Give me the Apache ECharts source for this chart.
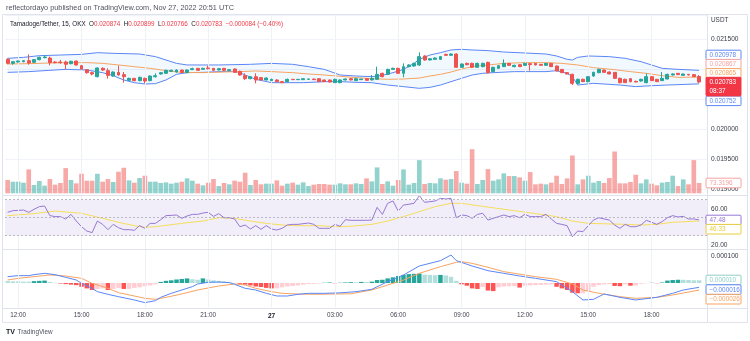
<!DOCTYPE html>
<html><head><meta charset="utf-8">
<script src="https://cdn.jsdelivr.net/npm/echarts@6/dist/echarts.min.js"></script>
<style>html,body{margin:0;padding:0;background:#fff}#c{width:750px;height:341px}</style>
</head><body><div id="c"></div>
<script>
// ---------------- DATA ----------------
const openP = [0.021161,0.021094,0.021117,0.021122,0.021139,0.021111,0.021156,0.021189,0.021183,0.021117,
0.021117,0.021117,0.021089,0.021133,0.021056,0.020989,0.020939,0.020872,0.021011,0.020972,
0.020883,0.020944,0.020906,0.020811,0.020844,0.020806,0.020844,0.020806,0.020872,0.020917,
0.020928,0.020961,0.020950,0.020983,0.020939,0.020989,0.021011,0.020994,0.021017,0.021011,
0.020983,0.021011,0.020972,0.021000,0.020961,0.020889,0.020839,0.020872,0.020856,0.020817,
0.020806,0.020817,0.020789,0.020789,0.020828,0.020822,0.020822,0.020828,0.020833,0.020839,
0.020817,0.020817,0.020772,0.020772,0.020817,0.020839,0.020806,0.020822,0.020839,0.020817,
0.020828,0.020928,0.020911,0.020994,0.021011,0.020928,0.021039,0.021050,0.021067,0.021217,
0.021150,0.021161,0.021161,0.021244,0.021228,0.021250,0.021028,0.021094,0.021094,0.021028,
0.021039,0.021111,0.020956,0.021011,0.021039,0.021094,0.021039,0.021072,0.021061,0.021089,
0.021094,0.021078,0.021061,0.021094,0.021050,0.020994,0.020939,0.020911,0.020761,0.020828,
0.020789,0.020883,0.020939,0.020983,0.020950,0.020944,0.020844,0.020828,0.020839,0.020794,
0.020800,0.020772,0.020872,0.020828,0.020806,0.020833,0.020900,0.020928,0.020894,0.020911,
0.020906,0.020874];
const closeP = [0.021094,0.021122,0.021133,0.021139,0.021100,0.021156,0.021194,0.021200,0.021106,0.021106,
0.021106,0.021078,0.021128,0.021067,0.021000,0.020939,0.020917,0.021017,0.020983,0.020894,
0.020950,0.020900,0.020872,0.020844,0.020806,0.020861,0.020800,0.020883,0.020889,0.020939,
0.020978,0.020978,0.020983,0.020944,0.020983,0.021006,0.020978,0.021011,0.021006,0.020978,
0.021006,0.020978,0.020989,0.020944,0.020900,0.020839,0.020872,0.020817,0.020817,0.020850,
0.020828,0.020789,0.020772,0.020828,0.020822,0.020828,0.020839,0.020833,0.020822,0.020789,
0.020789,0.020783,0.020828,0.020817,0.020833,0.020817,0.020839,0.020833,0.020811,0.020844,
0.020911,0.020872,0.020994,0.021011,0.020928,0.021039,0.021067,0.021094,0.021206,0.021150,
0.021172,0.021183,0.021206,0.021228,0.021250,0.021028,0.021083,0.021072,0.021028,0.021094,
0.021094,0.020939,0.021028,0.021056,0.021094,0.021061,0.021061,0.021039,0.021094,0.021072,
0.021067,0.021061,0.021094,0.021039,0.020967,0.020939,0.020917,0.020761,0.020828,0.020789,
0.020872,0.020944,0.020994,0.020944,0.020917,0.020844,0.020772,0.020772,0.020789,0.020783,
0.020828,0.020872,0.020806,0.020789,0.020844,0.020911,0.020917,0.020906,0.020917,0.020900,
0.020872,0.020783];
const lowP = [0.021078,0.021072,0.021106,0.021111,0.021072,0.021100,0.021144,0.021178,0.021061,0.021094,
0.021089,0.020994,0.021078,0.021056,0.020989,0.020922,0.020894,0.020861,0.020967,0.020839,
0.020872,0.020889,0.020772,0.020800,0.020794,0.020794,0.020761,0.020794,0.020856,0.020906,
0.020917,0.020956,0.020939,0.020939,0.020933,0.020983,0.020972,0.020989,0.020994,0.020972,
0.020978,0.020967,0.020967,0.020939,0.020889,0.020817,0.020828,0.020761,0.020806,0.020811,
0.020800,0.020778,0.020767,0.020783,0.020817,0.020817,0.020817,0.020822,0.020817,0.020783,
0.020783,0.020778,0.020767,0.020761,0.020811,0.020811,0.020800,0.020817,0.020806,0.020811,
0.020817,0.020861,0.020900,0.020983,0.020917,0.020861,0.021028,0.021039,0.021050,0.021139,
0.021144,0.021156,0.021150,0.021217,0.021217,0.021017,0.021017,0.021061,0.021017,0.021022,
0.021028,0.020928,0.020944,0.021000,0.021033,0.021050,0.021028,0.021033,0.021056,0.020972,
0.021061,0.021056,0.021056,0.021033,0.020961,0.020933,0.020911,0.020733,0.020744,0.020783,
0.020778,0.020872,0.020928,0.020939,0.020911,0.020833,0.020761,0.020767,0.020778,0.020778,
0.020789,0.020761,0.020800,0.020783,0.020800,0.020828,0.020894,0.020900,0.020889,0.020894,
0.020867,0.020766];
const highP = [0.021178,0.021133,0.021144,0.021150,0.021244,0.021167,0.021206,0.021233,0.021206,0.021128,
0.021150,0.021139,0.021139,0.021139,0.021067,0.021000,0.020956,0.021028,0.021028,0.021011,
0.020961,0.021056,0.020950,0.020856,0.020850,0.020872,0.020856,0.020894,0.020928,0.020950,
0.020989,0.020989,0.020994,0.020989,0.020994,0.021022,0.021017,0.021022,0.021056,0.021017,
0.021017,0.021017,0.021000,0.021011,0.020972,0.020928,0.020883,0.020928,0.020867,0.020861,
0.020839,0.020828,0.020800,0.020839,0.020833,0.020833,0.020844,0.020839,0.020839,0.020844,
0.020822,0.020822,0.020839,0.020828,0.020844,0.020850,0.020850,0.020839,0.020844,0.020900,
0.021039,0.020939,0.021006,0.021022,0.021022,0.021094,0.021078,0.021106,0.021278,0.021228,
0.021183,0.021194,0.021217,0.021256,0.021261,0.021261,0.021094,0.021106,0.021106,0.021106,
0.021106,0.021122,0.021039,0.021067,0.021161,0.021100,0.021072,0.021078,0.021106,0.021100,
0.021100,0.021083,0.021100,0.021100,0.021056,0.021000,0.020950,0.020922,0.020839,0.020839,
0.020883,0.020956,0.021006,0.020989,0.020961,0.020950,0.020856,0.020839,0.020844,0.020806,
0.020839,0.020928,0.020878,0.020833,0.020950,0.020922,0.020928,0.020933,0.020922,0.020917,
0.020911,0.020899];
const volume = [94.6,82.8,82.8,75.7,170.3,59.1,87.5,54.4,101.7,61.5,
73.3,179.7,94.6,70.9,139.5,89.9,89.9,139.5,82.8,101.7,
80.4,153.7,182.1,92.2,75.7,108.8,125.3,82.8,82.8,73.3,
78.0,68.6,75.7,82.8,106.4,89.9,68.6,56.8,75.7,101.7,
52.0,73.3,63.9,89.9,82.8,146.6,59.1,94.6,63.9,68.6,
68.6,92.2,54.4,68.6,75.7,61.5,78.0,52.0,61.5,66.2,
66.2,61.5,61.5,71.0,63.9,63.9,71.0,66.2,106.4,85.1,
184.5,66.2,85.1,54.4,94.6,170.3,61.5,73.3,236.5,66.2,
73.3,71.0,106.4,97.0,101.7,158.5,75.7,68.6,314.5,66.2,
94.6,172.6,89.9,99.3,141.9,123.0,123.0,113.5,89.9,151.4,
63.9,68.6,63.9,75.7,125.3,66.2,106.4,269.6,63.9,99.3,
125.3,75.7,87.5,73.3,108.8,298.0,71.0,71.0,80.4,132.4,
71.0,99.3,68.6,56.8,75.7,80.4,125.3,52.0,99.3,63.9,
236.5,73.3196];
// Bollinger Bands [bar index, value]
const bbUpper = [[0,0.021178],[3,0.021194],[6,0.021222],[10,0.021233],[14,0.021244],[17,0.021272],[20,0.021261],[25,0.021250],[28,0.021206],[30,0.021150],[32,0.021094],[34,0.021067],[40,0.021067],[46,0.021078],[50,0.021094],[54,0.021078],[57,0.021039],[60,0.020994],[63,0.020900],[66,0.020883],[69,0.020872],[71,0.020894],[73,0.020939],[75,0.020994],[77,0.021094],[78,0.021161],[80,0.021233],[82,0.021272],[84,0.021317],[86,0.021328],[88,0.021317],[91,0.021306],[94,0.021283],[98,0.021267],[102,0.021250],[104,0.021217],[106,0.021161],[107,0.021150],[108,0.021194],[110,0.021217],[114,0.021206],[117,0.021178],[120,0.021122],[122,0.021067],[124,0.021011],[127,0.020994],[131,0.020978]];
const bbBasis = [[0,0.021083],[4,0.021089],[8,0.021100],[12,0.021106],[15,0.021106],[18,0.021094],[21,0.021067],[24,0.021039],[27,0.021011],[30,0.020972],[33,0.020944],[37,0.020939],[41,0.020950],[44,0.020956],[47,0.020967],[50,0.020956],[54,0.020939],[57,0.020917],[60,0.020900],[63,0.020878],[66,0.020856],[69,0.020839],[72,0.020828],[75,0.020833],[78,0.020850],[80,0.020883],[82,0.020911],[84,0.020950],[86,0.021000],[88,0.021039],[91,0.021067],[94,0.021094],[98,0.021106],[102,0.021106],[105,0.021094],[108,0.021067],[111,0.021022],[115,0.020989],[118,0.020956],[121,0.020928],[124,0.020889],[127,0.020861],[131,0.020865]];
const bbLower = [[0,0.020944],[4,0.020956],[8,0.020978],[11,0.020994],[15,0.020983],[18,0.020939],[20,0.020889],[22,0.020817],[24,0.020772],[26,0.020750],[28,0.020756],[30,0.020817],[32,0.020911],[34,0.020939],[37,0.020944],[40,0.020956],[43,0.020961],[44,0.020939],[45,0.020900],[47,0.020828],[50,0.020772],[56,0.020772],[60,0.020789],[63,0.020789],[66,0.020778],[69,0.020772],[72,0.020733],[75,0.020706],[78,0.020678],[80,0.020694],[82,0.020733],[85,0.020817],[88,0.020900],[90,0.020928],[92,0.020939],[96,0.020956],[102,0.020956],[104,0.020972],[106,0.020928],[107,0.020872],[108,0.020733],[111,0.020761],[116,0.020733],[119,0.020706],[121,0.020717],[125,0.020733],[131,0.020752]];
// RSI and its moving average [bar index, value]
const rsi = [[0,56.0],[1,57.8],[3,58.5],[4,56.0],[5,59.3],[6,62.3],[7,63.0],[8,52.3],[9,51.2],[10,51.2],[11,48.6],[12,53.7],[13,46.3],[14,40.0],[15,35.2],[16,33.4],[17,46.3],[18,42.6],[19,36.7],[20,42.6],[21,38.9],[22,36.7],[23,36.7],[24,36.0],[25,41.2],[26,38.2],[27,43.7],[28,43.7],[29,47.8],[30,52.3],[31,52.6],[32,53.0],[33,49.3],[34,51.9],[35,53.7],[36,53.7],[37,55.2],[38,56.0],[39,51.5],[40,54.5],[41,50.0],[42,50.0],[43,48.6],[44,40.0],[45,41.9],[46,37.4],[47,41.2],[48,37.1],[49,41.2],[50,37.4],[51,36.3],[52,38.2],[53,41.9],[54,42.6],[55,42.6],[57,44.1],[58,42.6],[59,38.2],[60,38.2],[61,38.2],[62,42.6],[63,40.5],[64,47.8],[65,47.1],[66,47.1],[68,47.1],[69,47.4],[70,61.5],[71,53.7],[72,66.0],[73,68.6],[74,57.4],[75,64.1],[76,64.9],[77,66.0],[78,74.5],[79,67.1],[80,67.8],[81,68.6],[82,71.5],[83,70.8],[84,71.5],[85,50.0],[86,53.0],[87,52.3],[88,49.3],[89,53.7],[90,54.9],[91,47.4],[92,49.3],[93,51.2],[94,53.0],[95,51.2],[96,52.3],[97,50.0],[98,53.7],[99,51.2],[100,51.2],[101,51.2],[102,53.7],[103,48.6],[104,43.7],[105,42.6],[106,41.1],[107,28.9],[108,35.2],[109,34.5],[110,41.1],[111,47.4],[112,50.0],[113,48.6],[114,47.4],[115,41.9],[116,38.2],[117,42.6],[118,40.0],[119,40.0],[120,41.9],[121,47.1],[122,44.9],[123,42.6],[124,45.6],[125,50.0],[126,52.3],[127,50.8],[128,51.5],[129,48.6],[130,48.6],[131,47.48]];
const rsiMA = [[0,52.3],[5,54.5],[9,57.4],[14,54.9],[18,49.3],[21,44.9],[24,41.1],[26,39.3],[28,40.0],[33,43.7],[37,46.3],[40,50.0],[43,49.3],[46,46.3],[49,43.7],[52,41.9],[55,41.1],[59,41.1],[62,40.0],[65,40.5],[69,42.6],[72,46.3],[75,51.2],[78,56.7],[81,62.3],[84,66.0],[86,66.0],[89,63.4],[95,58.6],[101,53.7],[104,51.2],[107,46.3],[110,43.7],[117,42.6],[120,41.9],[123,42.6],[126,44.9],[131,46.33]];
// MACD [bar index, value]
const macdLine = [[0,23.5e-6],[2,27.2e-6],[4,27.2e-6],[5,30.9e-6],[7,35.8e-6],[9,30.9e-6],[11,21.0e-6],[13,11.1e-6],[14,-1.2e-6],[16,-19.7e-6],[17,-32.1e-6],[19,-41.9e-6],[21,-50.6e-6],[24,-62.9e-6],[26,-72.8e-6],[28,-65.4e-6],[29,-53.1e-6],[31,-38.2e-6],[33,-25.9e-6],[35,-13.5e-6],[36,-3.7e-6],[38,2.5e-6],[40,3.7e-6],[42,1.3e-6],[43,-4.9e-6],[45,-19.7e-6],[47,-25.9e-6],[49,-38.2e-6],[51,-48.1e-6],[53,-48.1e-6],[55,-41.9e-6],[57,-38.2e-6],[60,-38.2e-6],[63,-36.5e-6],[66,-32.1e-6],[69,-23.4e-6],[72,5.0e-6],[75,29.7e-6],[78,63.0e-6],[82,82.8e-6],[84,103.7e-6],[85,82.8e-6],[88,63.0e-6],[91,45.7e-6],[94,35.8e-6],[97,26.0e-6],[100,17.3e-6],[104,5.0e-6],[107,-32.1e-6],[109,-62.9e-6],[111,-60.5e-6],[113,-40.7e-6],[116,-53.1e-6],[119,-62.9e-6],[123,-53.1e-6],[126,-38.2e-6],[128,-25.9e-6],[131,-16e-6]];
const macdSignal = [[0,11.1e-6],[2,17.3e-6],[5,23.5e-6],[8,29.7e-6],[11,26.0e-6],[14,17.3e-6],[16,-1.2e-6],[19,-19.7e-6],[21,-35.8e-6],[24,-48.1e-6],[26,-56.8e-6],[28,-60.5e-6],[30,-53.1e-6],[33,-40.7e-6],[36,-25.9e-6],[40,-11.1e-6],[43,-3.7e-6],[45,-7.4e-6],[47,-19.7e-6],[50,-32.1e-6],[52,-38.2e-6],[55,-40.7e-6],[58,-41.9e-6],[62,-40.7e-6],[65,-40.0e-6],[69,-25.9e-6],[72,-7.4e-6],[75,11.1e-6],[78,35.8e-6],[82,60.5e-6],[85,76.6e-6],[86,79.1e-6],[88,72.9e-6],[91,58.1e-6],[94,42.0e-6],[100,23.5e-6],[104,13.6e-6],[107,-3.7e-6],[109,-25.9e-6],[112,-38.2e-6],[116,-50.6e-6],[119,-56.8e-6],[123,-53.1e-6],[126,-44.4e-6],[131,-26e-6]];
const macdHist = [7e-6,6e-6,6e-6,5e-6,5e-6,7e-6,8e-6,9e-6,4e-6,1e-6,
-2e-6,-4e-6,-6e-6,-8e-6,-14e-6,-20e-6,-26e-6,-22e-6,-20e-6,-26e-6,
-22e-6,-18e-6,-22e-6,-22e-6,-18e-6,-16e-6,-12e-6,-9e-6,-5e-6,4e-6,
8e-6,10e-6,13e-6,15e-6,17e-6,14e-6,12e-6,17e-6,13e-6,10e-6,
8e-6,6e-6,3e-6,1e-6,-3e-6,-6e-6,-9e-6,-13e-6,-15e-6,-18e-6,
-20e-6,-20e-6,-16e-6,-13e-6,-11e-6,-9e-6,-6e-6,-4e-6,-3e-6,-2e-6,
1e-6,2e-6,-1e-6,1e-6,2e-6,3e-6,3e-6,4e-6,4e-6,5e-6,
11e-6,12e-6,17e-6,21e-6,26e-6,30e-6,33e-6,34e-6,35e-6,31e-6,
30e-6,29e-6,30e-6,28e-6,23e-6,8e-6,-5e-6,-10e-6,-20e-6,-22e-6,
-15e-6,-28e-6,-30e-6,-16e-6,-13e-6,-12e-6,-11e-6,-17e-6,-10e-6,-9e-6,
-8e-6,-7e-6,-6e-6,-5e-6,-14e-6,-20e-6,-26e-6,-36e-6,-38e-6,-38e-6,
-30e-6,-14e-6,-8e-6,-5e-6,-4e-6,-11e-6,-12e-6,-5e-6,-10e-6,-9e-6,
-3e-6,-1e-6,1e-6,-1e-6,2e-6,9e-6,11e-6,12e-6,12e-6,11e-6,
10e-6,10e-6];
// Axis ticks
const tickIndex = [2,14,26,38,50,62,74,86,98,110,122];
const tickText = ['12:00','15:00','18:00','21:00','27','03:00','06:00','09:00','12:00','15:00','18:00'];
const priceTicks = [0.0215,0.0200,0.0195,0.0190];
const rsiTicks = [60,20];
const macdTicks = [0.0001];
// Right-axis value badges
const badgeText = ['0.020978','0.020867','0.020865','0.020752','73.3196','47.48','46.33','0.000010','\u22120.000016','\u22120.000026'];
const lastPrice = '0.020783', countdown = '08:37';
const titleText = 'reflectordayo published on TradingView.com, Nov 27, 2022 20:51 UTC';

// ---------------- CHART ----------------
const categories = [];
for (let k = 0; k < 133; k++) {
  const m = 690 + 15 * k;
  const day = 26 + Math.floor(m / 1440), mm = m % 1440;
  categories.push(day + ' ' + String(Math.floor(mm / 60)).padStart(2, '0') + ':' + String(mm % 60).padStart(2, '0'));
}
const FONT = 'Liberation Sans, Arial, sans-serif';
const UP = '#26a69a', DOWN = '#ef5350';
const L = 5, R = 43;
const grids = [
  {left: L, right: R, top: 15, height: 174},
  {left: L, right: R, top: 140, height: 53.3},
  {left: L, right: R, top: 195.2, height: 54},
  {left: L, right: R, top: 247.9, height: 59.4}
];
const xAxes = grids.map((g, gi) => ({
  type: 'category', gridIndex: gi, data: categories, boundaryGap: true,
  axisLine: {show: false}, axisTick: {show: false}, splitLine: {show: false},
  axisLabel: gi === 3 ? {
    show: true, interval: (idx) => tickIndex.indexOf(idx) >= 0,
    formatter: (v, idx) => { const t = tickText[tickIndex.indexOf(idx)]; return t === '27' ? '{b|' + t + '}' : t; },
    rich: {b: {fontWeight: 'bold', fontSize: 6.5, color: '#131722', fontFamily: FONT}},
    fontSize: 6.3, color: '#434651', margin: 5, fontFamily: FONT
  } : {show: false}
}));
const axisLabelBase = {fontSize: 6.6, color: '#363a45', margin: 4, fontFamily: FONT};
const yAxes = [
  {type: 'value', gridIndex: 0, position: 'right', min: 0.019, max: 0.0219, interval: 0.0005,
   axisLine: {show: false}, axisTick: {show: false},
   axisLabel: Object.assign({}, axisLabelBase, {formatter: v => priceTicks.some(t => Math.abs(t - v) < 1e-7) ? v.toFixed(6) : ''}),
   splitLine: {lineStyle: {color: '#f0f3fa', width: 1}}},
  {type: 'value', gridIndex: 1, min: 0, max: 380, show: false, splitLine: {show: false}},
  {type: 'value', gridIndex: 2, position: 'right', min: 15, max: 75,
   axisLine: {show: false}, axisTick: {show: false}, splitLine: {show: false},
   axisLabel: Object.assign({}, axisLabelBase, {customValues: rsiTicks, formatter: v => Number(v).toFixed(2)})},
  {type: 'value', gridIndex: 3, position: 'right', min: -0.00009, max: 0.00013,
   axisLine: {show: false}, axisTick: {show: false}, splitLine: {show: false},
   axisLabel: Object.assign({}, axisLabelBase, {customValues: macdTicks, formatter: v => Number(v).toFixed(6)})}
];
const vGrid = {silent: true, symbol: ['none', 'none'], label: {show: false}, animation: false,
  lineStyle: {color: '#eef1f7', width: 1, type: 'solid'}, data: tickIndex.map(i => ({xAxis: categories[i]}))};

const candleData = openP.map((o, k) => [o, closeP[k], lowP[k], highP[k]]);
const series = [
  {type: 'custom', coordinateSystem: 'cartesian2d', xAxisIndex: 0, yAxisIndex: 0, data: [[0, 0.02]], silent: true, z: 1,
   renderItem: (params, api) => {
     const pts = bbUpper.map(p => api.coord(p)).concat(bbLower.slice().reverse().map(p => api.coord(p)));
     return {type: 'polygon', shape: {points: pts}, style: {fill: 'rgba(33,150,243,0.06)', stroke: 'none'}};
   }},
  {type: 'line', xAxisIndex: 0, yAxisIndex: 0, data: bbUpper, showSymbol: false, silent: true, z: 2,
   lineStyle: {color: '#5b86f6', width: 1}, markLine: vGrid},
  {type: 'line', xAxisIndex: 0, yAxisIndex: 0, data: bbLower, showSymbol: false, silent: true, z: 2,
   lineStyle: {color: '#5b86f6', width: 1}},
  {type: 'line', xAxisIndex: 0, yAxisIndex: 0, data: bbBasis, showSymbol: false, silent: true, z: 2,
   lineStyle: {color: '#f7a462', width: 1}},
  {type: 'candlestick', xAxisIndex: 0, yAxisIndex: 0, data: candleData, barWidth: 3.4, z: 5,
   itemStyle: {color: UP, color0: DOWN, borderColor: UP, borderColor0: DOWN, borderWidth: 1}},
  {type: 'bar', xAxisIndex: 1, yAxisIndex: 1, data: volume, barWidth: '88%', silent: true, z: 0,
   itemStyle: {color: p => closeP[p.dataIndex] >= openP[p.dataIndex] ? 'rgba(38,166,154,0.5)' : 'rgba(239,83,80,0.5)'},
   markLine: vGrid},
  {type: 'line', xAxisIndex: 2, yAxisIndex: 2, data: rsiMA, showSymbol: false, silent: true, z: 3,
   lineStyle: {color: '#f5de5c', width: 1}, markLine: vGrid},
  {type: 'line', xAxisIndex: 2, yAxisIndex: 2, data: rsi, showSymbol: false, silent: true, z: 4,
   lineStyle: {color: '#9677d4', width: 1},
   markArea: {silent: true, itemStyle: {color: 'rgba(126,87,194,0.1)'}, data: [[{yAxis: 70}, {yAxis: 30}]]},
   markLine: {silent: true, symbol: ['none', 'none'], label: {show: false}, animation: false,
     lineStyle: {color: '#b8b9c2', width: 1, type: [2, 2]}, data: [{yAxis: 70}, {yAxis: 50}, {yAxis: 30}]}},
  {type: 'bar', xAxisIndex: 3, yAxisIndex: 3, data: macdHist, barWidth: '85%', silent: true, z: 2,
   itemStyle: {color: p => {
     const v = macdHist[p.dataIndex], pr = p.dataIndex > 0 ? macdHist[p.dataIndex - 1] : v;
     return v >= 0 ? (v > pr ? '#26a69a' : '#b2dfdb') : (v < pr ? '#ff5252' : '#ffcdd2');
   }}, markLine: vGrid},
  {type: 'line', xAxisIndex: 3, yAxisIndex: 3, data: macdLine, showSymbol: false, silent: true, z: 4,
   lineStyle: {color: '#5b86f6', width: 1}},
  {type: 'line', xAxisIndex: 3, yAxisIndex: 3, data: macdSignal, showSymbol: false, silent: true, z: 3,
   lineStyle: {color: '#f7a462', width: 1}}
];

// ---------------- CHROME / LABELS ----------------
const badgeY = [55, 64.2, 73.4, 100.8, 183, 220, 229.2, 280, 289.6, 299.2];
const badgeColor = ['#5b86f6', '#f5a3a1', '#f7a462', '#5b86f6', '#f5a3a1', '#9677d4', '#e8cf3c', '#8fd0c8', '#5b86f6', '#f7a462'];
const gfx = [];
const line = (x1, y1, x2, y2, c) => gfx.push({type: 'line', silent: true, z: 100, shape: {x1, y1, x2, y2}, style: {stroke: c || '#e0e3eb', lineWidth: 1}});
gfx.push({type: 'rect', silent: true, z: 100, shape: {x: 2.5, y: 14.5, width: 745, height: 308}, style: {fill: 'none', stroke: '#e0e3eb', lineWidth: 1}});
line(707.5, 14.5, 707.5, 322.5);
line(2.5, 195.5, 747.5, 195.5);
line(2.5, 249.5, 747.5, 249.5);
line(2.5, 308.5, 747.5, 308.5);
const txt = (x, y, text, size, fill, extra) => gfx.push(Object.assign({type: 'text', silent: true, z: 110, x, y,
  style: {text, fontSize: size, fontFamily: FONT, fill, textAlign: 'left', textVerticalAlign: 'middle'}}, extra || {}));
txt(6, 7.5, titleText, 7.3, '#50535e');
txt(711, 20.5, 'USDT', 6.4, '#363a45');
gfx.push({type: 'text', silent: true, z: 110, x: 10, y: 24.5, style: {
  text: '{n|Tamadoge/Tether, 15, OKX}  {l|O}{v|' + openP[131].toFixed(6) + '}  {l|H}{v|' + highP[131].toFixed(6) + '}  {l|L}{v|' + lowP[131].toFixed(6) + '}  {l|C}{v|' + closeP[131].toFixed(6) + '}  {v|\u22120.000084 (\u22120.40%)}',
  textVerticalAlign: 'middle', fontFamily: FONT, fontSize: 6.3,
  rich: {n: {fill: '#131722', fontSize: 6.3, fontFamily: FONT}, l: {fill: '#131722', fontSize: 6.3, fontFamily: FONT}, v: {fill: '#f23645', fontSize: 6.3, fontFamily: FONT}}}});
badgeText.forEach((t, k) => {
  gfx.push({type: 'rect', silent: true, z: 105, shape: {x: 706, y: badgeY[k] - 4.8, width: 35, height: 9.6, r: 1}, style: {fill: '#ffffff', stroke: badgeColor[k], lineWidth: 1}});
  txt(709.5, badgeY[k] + 0.2, t, 6.4, badgeColor[k]);
});
gfx.push({type: 'rect', silent: true, z: 105, shape: {x: 706, y: 77.3, width: 35, height: 18.6, r: 1}, style: {fill: '#f23645', stroke: '#f23645'}});
txt(709.5, 82.3, lastPrice, 6.4, '#ffffff');
txt(709.5, 91, countdown, 6.4, '#ffffff');
txt(6, 332.5, 'TV', 7, '#131722', {style: {text: 'TV', fontSize: 7, fontWeight: 'bold', fontFamily: FONT, fill: '#131722', textAlign: 'left', textVerticalAlign: 'middle'}});
txt(17.5, 332.5, 'TradingView', 6.4, '#50535e');

const chart = echarts.init(document.getElementById('c'), null, {renderer: 'canvas'});
chart.setOption({
  animation: false, backgroundColor: '#ffffff', textStyle: {fontFamily: FONT},
  grid: grids, xAxis: xAxes, yAxis: yAxes, series, graphic: {elements: gfx}
});
</script></body></html>
